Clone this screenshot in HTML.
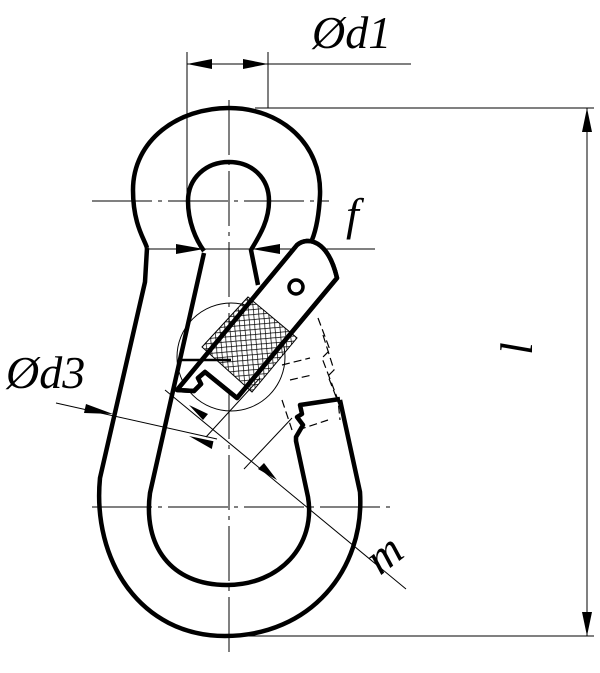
<!DOCTYPE html>
<html><head><meta charset="utf-8"><style>
html,body{margin:0;padding:0;background:#fff;}
svg{display:block;}
text{font-family:"Liberation Serif",serif;font-style:italic;fill:#000;}
</style></head><body>
<svg width="600" height="673" viewBox="0 0 600 673" xmlns="http://www.w3.org/2000/svg">
<defs>
<pattern id="hatch" width="5" height="5" patternUnits="userSpaceOnUse" patternTransform="rotate(-5)">
<path d="M0 0H5M0 0V5" stroke="#000" stroke-width="1.4"/>
</pattern>
</defs>
<g fill="none" stroke="#000">
<g stroke-width="1">
<line x1="187" y1="52" x2="187" y2="201"/>
<line x1="268" y1="52" x2="268" y2="108"/>
<line x1="187" y1="64" x2="411" y2="64"/>
<line x1="255" y1="108" x2="594" y2="108"/>
<line x1="229" y1="636" x2="594" y2="636"/>
<line x1="587" y1="108" x2="587" y2="636"/>
<line x1="148" y1="249" x2="375" y2="249"/>
<line x1="92" y1="201" x2="329" y2="201" stroke-dasharray="60 6 4 6"/>
<line x1="92" y1="507" x2="394" y2="507" stroke-dasharray="60 6 4 6"/>
<line x1="229" y1="100" x2="229" y2="658" stroke-dasharray="55 6 4 6"/>
<line x1="56" y1="403" x2="217" y2="439"/>
<line x1="165" y1="390" x2="406" y2="589"/>
<line x1="206" y1="437" x2="260" y2="378"/>
<line x1="244" y1="469" x2="292" y2="418"/>
<circle cx="231" cy="357" r="54"/>
</g>
<g fill="#000" stroke="none">
<path d="M187 64L212 59V69z"/><path d="M268 64L243 59V69z"/>
<path d="M204 249L176 244V254z"/><path d="M252 249L280 244V254z"/>
<path d="M587 108L582 132H592z"/><path d="M587 636L582 612H592z"/>
<path d="M113 414L86 404L84 413z"/><path d="M189 436L214 436L214 444z" transform="rotate(12 189 436)"/>
<path d="M189 405L208 414L203 420z"/><path d="M277 480L258 469L264 463z"/>
</g>
<g stroke-width="4.5" stroke-linejoin="round">
<path d="M147 248 C145 240 133 225 133 190 C133 140 178 108 229 108 C282 108 322 145 320 195 C319 215 316 230 312 240"/>
<path d="M147 248 L145 282 L100 478 C92 560 140 636 225 636 C310 636 365 570 360 492 L340 400"/>
<path d="M340 399 L300 405 L302 414 L297 417 L303 425 L296 437 L296 441 L308 497 C316 545 280 585 227 585 C170 585 143 545 150 493 L204 253"/>
<path d="M204 251 C196 240 188 222 188 201 C188 178 206 162 229 162 C252 162 269 178 269 201 C269 222 258 238 251 250 L258 285"/>
<path d="M177 390 L297 245 C308 236 328 240 337 278 L237 398 L205 372 L198 378 L201 384 L194 391 Z" fill="#fff"/>
</g>
<polygon points="202,347 248,297 297,338 252,392" fill="url(#hatch)" stroke="#000" stroke-width="1"/>
<path d="M177 390 L297 245 C308 236 328 240 337 278 L237 398 L205 372 L198 378 L201 384 L194 391 Z" stroke-width="4.5" stroke-linejoin="round"/>
<circle cx="296" cy="287" r="7" stroke-width="3.5"/>
<line x1="181" y1="360" x2="231" y2="360" stroke-width="2.5"/>
<g stroke-width="1.2" stroke-dasharray="8 4">
<path d="M318 318 L330 350 L322 358 L338 400 L340 420"/>
<path d="M323 335 L334 370 L328 376 L345 420"/>
<line x1="282" y1="365" x2="310" y2="358"/>
<line x1="290" y1="380" x2="312" y2="375"/>
<line x1="282" y1="400" x2="292" y2="430"/>
<line x1="298" y1="430" x2="328" y2="420"/>
</g>
</g>
<text x="312" y="48" font-size="46">Ød1</text>
<text x="346" y="230" font-size="46">f</text>
<text x="6" y="388" font-size="46">Ød3</text>
<text x="0" y="0" font-size="46" transform="translate(532 355) rotate(-90)">l</text>
<text x="0" y="0" font-size="46" transform="translate(380 576) rotate(-38)">m</text>
</svg>
</body></html>
